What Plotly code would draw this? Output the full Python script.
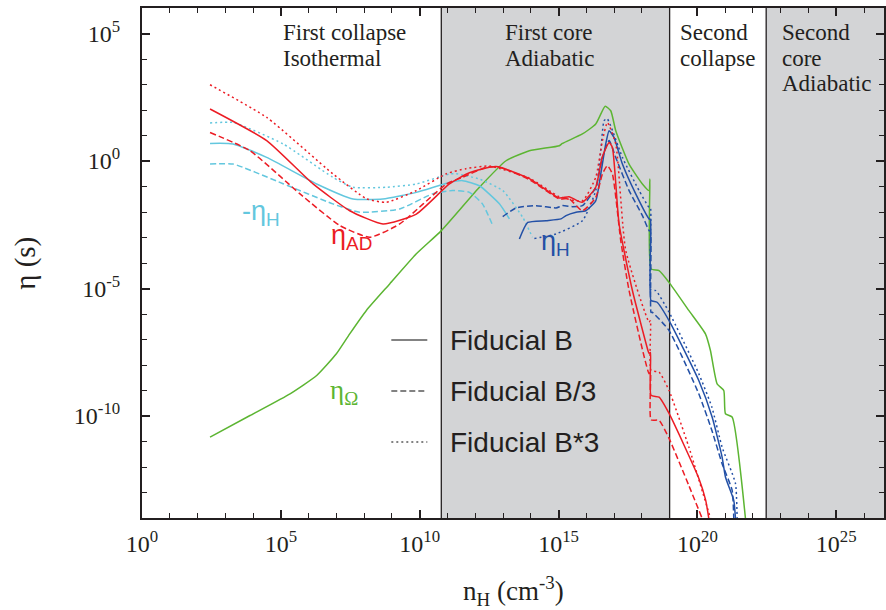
import numpy as np
import plotly.graph_objects as go

# ---- data: log10(n_H / cm^-3) and log10(eta / s) -------------------------
# Ambipolar diffusion
ad_b_logn = [2.45, 4.49, 6.16, 7.48, 8.68, 9.88, 11.07, 11.79, 12.75, 13.95, 15.03, 15.38, 15.85,
             16.34, 16.57, 16.82, 16.94, 17.18, 17.66, 18.22, 18.26, 18.31, 18.33, 18.62, 18.98,
             20.05, 20.30, 20.41]
ad_b_logeta = [2.04, 0.80, -0.90, -1.95, -2.47, -2.08, -0.90, -0.46, -0.22, -0.69, -1.45, -1.40, -1.62,
               -1.03, 0.14, 0.73, 0.53, -2.47, -5.08, -7.43, -7.55, -7.51, -9.19, -9.26, -9.90,
               -12.44, -13.31, -14.01]

ad_b3_logn = [2.45, 3.89, 5.69, 7.12, 8.20, 9.28, 10.96, 11.54, 12.39, 12.87, 13.95, 15.03, 15.38,
              15.86, 16.34, 16.58, 16.76, 16.94, 17.24, 17.54, 18.26, 18.31, 18.33, 18.62, 18.98,
              19.69, 20.17]
ad_b3_logeta = [1.12, 0.40, -1.29, -2.53, -2.99, -2.47, -0.90, -0.64, -0.25, -0.24, -0.73, -1.49, -1.48,
                -1.95, -1.43, -0.51, -0.18, -0.51, -3.12, -5.08, -8.34, -8.29, -10.15, -10.17, -10.88,
                -12.72, -14.01]

ad_bx3_logn = [2.45, 4.49, 6.87, 8.08, 8.80, 9.88, 10.96, 11.67, 12.51, 13.95, 15.03, 15.86, 16.34,
               16.58, 16.76, 17.06, 17.42, 18.26, 18.31, 18.33, 18.62, 18.98, 19.69, 20.47]
ad_bx3_logeta = [2.99, 1.71, -0.50, -1.48, -1.62, -1.16, -0.50, -0.30, -0.20, -0.67, -1.40, -1.56, -0.64,
                 0.80, 1.51, 0.67, -3.51, -6.32, -6.26, -8.21, -8.28, -9.00, -11.21, -14.01]

# Hall effect, negative branch (-eta_H)
hneg_b_logn = [2.45, 3.28, 4.49, 6.29, 7.60, 8.67, 9.88, 11.07, 11.55, 12.15, 12.87, 13.23]
hneg_b_logeta = [0.69, 0.67, 0.14, -0.90, -1.49, -1.49, -1.23, -0.84, -0.77, -0.97, -1.68, -2.27]

hneg_b3_logn = [2.45, 3.28, 5.08, 6.87, 7.84, 9.28, 10.46, 11.18, 11.79, 12.26, 12.63]
hneg_b3_logeta = [-0.12, -0.12, -0.89, -1.68, -2.01, -1.88, -1.29, -1.16, -1.23, -1.68, -2.53]

hneg_bx3_logn = [2.45, 3.28, 5.08, 6.87, 7.59, 8.80, 9.88, 11.07, 11.31, 12.15, 12.99, 13.71, 14.06]
hneg_bx3_logeta = [1.49, 1.51, 0.67, -0.64, -1.03, -1.03, -0.90, -0.51, -0.50, -0.71, -1.16, -2.21, -2.99]

# Hall effect, positive branch (eta_H)
hpos_b_logn = [13.59, 13.89, 14.55, 15.09, 15.27, 15.63, 15.98, 16.34, 16.52, 16.70, 16.82, 17.00,
               17.30, 17.78, 18.26, 18.31, 18.33, 18.55, 18.98, 20.05, 20.53, 20.89, 21.01, 21.31, 21.37]
hpos_b_logeta = [-3.06, -2.41, -2.34, -2.27, -2.14, -2.01, -1.95, -1.56, -0.51, 0.67, 1.19, 0.92,
                 -0.12, -1.29, -2.27, -2.30, -5.47, -5.54, -6.26, -8.61, -10.04, -11.61, -12.39, -13.31, -14.01]

hpos_b3_logn = [12.99, 13.47, 14.19, 14.91, 15.14, 15.50, 15.86, 16.34, 16.58, 16.82, 17.06, 17.54,
                18.02, 18.26, 18.31, 18.33, 18.37, 18.98, 20.05, 20.52, 20.89, 21.25, 21.31]
hpos_b3_logeta = [-2.18, -1.84, -1.75, -1.84, -1.75, -1.79, -1.75, -1.03, 0.14, 0.80, 0.14, -1.16,
                  -2.14, -2.73, -2.75, -5.94, -5.93, -6.65, -9.13, -10.56, -11.87, -12.91, -14.01]

hpos_bx3_logn = [14.13, 14.91, 15.86, 16.34, 16.52, 16.64, 16.75, 17.30, 17.90, 18.26, 18.31, 18.33,
                 18.50, 18.98, 20.05, 20.52, 20.89, 21.37, 21.43]
hpos_bx3_logeta = [-3.04, -2.86, -2.34, -1.16, 0.40, 1.58, 1.66, 0.14, -1.16, -1.82, -1.83, -5.08,
                   -5.08, -5.93, -8.34, -9.65, -11.22, -12.64, -14.01]

# Ohmic dissipation
ohm_logn = [2.45, 3.89, 5.33, 6.29, 7.00, 7.48, 8.08, 8.92, 9.88, 10.78, 12.15, 13.11, 13.95, 15.03,
            15.14, 15.86, 16.34, 16.68, 16.88, 17.06, 17.54, 18.02, 18.26, 18.29, 18.33, 18.62, 18.98,
            19.69, 20.29, 20.47, 20.71, 20.95, 21.01, 21.25, 21.73]
ohm_logeta = [-10.83, -9.98, -9.13, -8.41, -7.56, -6.78, -5.86, -4.82, -3.64, -2.73, -1.03, 0.01, 0.40,
              0.60, 0.69, 1.06, 1.45, 2.15, 1.97, 1.19, -0.12, -0.90, -1.16, -0.71, -4.23, -4.30, -4.76,
              -5.86, -6.78, -7.43, -8.74, -9.00, -9.91, -10.04, -14.01]

# phase boundaries in n_H (cm^-3)
phase_edges = [6e10, 1e19, 3e22]
phase_names = [["First collapse", "Isothermal"], ["First core", "Adiabatic"],
               ["Second", "collapse"], ["Second", "core", "Adiabatic"]]
phase_label_logn = [5.0, 12.99, 19.30, 22.99]

x_tick_exp = [0, 5, 10, 15, 20, 25]
y_tick_exp = [5, 0, -5, -10]
legend_names = ["Fiducial B", "Fiducial B/3", "Fiducial B*3"]

# ---- style -------------------------------------------------------------------
INK = "#231f20"
RED = "#ec1c24"
CYAN = "#63c7de"
BLUE = "#2350a6"
GREEN = "#5cb532"
BAND = "#d3d4d6"
SERIF = "Liberation Serif"
SANS = "Liberation Sans"
DASHES = ["solid", "6px,3px", "2px,3px"]

fig = go.Figure()


def add_curve(logn, logeta, color, dash):
    fig.add_trace(go.Scatter(
        x=np.power(10.0, logn), y=np.power(10.0, logeta), mode="lines",
        line=dict(color=color, width=1.5, dash=dash, shape="spline", smoothing=0.5),
        showlegend=False, hoverinfo="skip"))


add_curve(ohm_logn, ohm_logeta, GREEN, DASHES[0])
for (ln, le), d in zip([(hneg_b_logn, hneg_b_logeta), (hneg_b3_logn, hneg_b3_logeta),
                        (hneg_bx3_logn, hneg_bx3_logeta)], DASHES):
    add_curve(ln, le, CYAN, d)
for (ln, le), d in zip([(hpos_b_logn, hpos_b_logeta), (hpos_b3_logn, hpos_b3_logeta),
                        (hpos_bx3_logn, hpos_bx3_logeta)], DASHES):
    add_curve(ln, le, BLUE, d)
for (ln, le), d in zip([(ad_b_logn, ad_b_logeta), (ad_b3_logn, ad_b3_logeta),
                        (ad_bx3_logn, ad_bx3_logeta)], DASHES):
    add_curve(ln, le, RED, d)

shapes = []
# shaded adiabatic phases
for x0, x1 in [(phase_edges[0], phase_edges[1]), (phase_edges[2], 1e28)]:
    shapes.append(dict(type="rect", xref="x", yref="paper", x0=x0, x1=x1, y0=0, y1=1,
                       fillcolor=BAND, line=dict(width=0), layer="below"))
for xe in phase_edges:
    shapes.append(dict(type="line", xref="x", yref="paper", x0=xe, x1=xe, y0=0, y1=1,
                       line=dict(color=INK, width=1.3), layer="below"))

annotations = []
line_y = [0.951, 0.901, 0.851]
for names, lx in zip(phase_names, phase_label_logn):
    for k, txt in enumerate(names):
        annotations.append(dict(text=txt, xref="x", yref="paper", x=lx, y=line_y[k],
                                xanchor="left", yanchor="middle", showarrow=False,
                                font=dict(family=SERIF, size=23, color=INK)))

# line-style key
key_y = [0.349, 0.249, 0.149]
for name, d, ky in zip(legend_names, DASHES, key_y):
    shapes.append(dict(type="line", xref="paper", yref="paper", x0=0.336, x1=0.3845, y0=ky, y1=ky,
                       line=dict(color="#5a5a5a", width=1.5, dash=d)))
    annotations.append(dict(text=name, xref="paper", yref="paper", x=0.4118, y=ky,
                            xanchor="left", yanchor="middle", showarrow=False,
                            font=dict(family=SANS, size=28, color=INK)))

# curve labels
curve_labels = [("-η<sub>H</sub>", 0.160, 0.598, CYAN, SANS),
                ("η<sub>AD</sub>", 0.283, 0.551, RED, SANS),
                ("η<sub>H</sub>", 0.557, 0.539, BLUE, SANS),
                ("η<sub>Ω</sub>", 0.272, 0.247, GREEN, SERIF)]
for txt, px, py, col, fam in curve_labels:
    annotations.append(dict(text=txt, xref="paper", yref="paper", x=px, y=py,
                            xanchor="center", yanchor="middle", showarrow=False,
                            font=dict(family=fam, size=27, color=col)))

# axis titles
annotations.append(dict(text="n<sub>H</sub> (cm<sup>-3</sup>)", xref="paper", yref="paper",
                        x=0.5, y=-0.143, xanchor="center", yanchor="middle", showarrow=False,
                        font=dict(family=SERIF, size=27, color=INK)))
annotations.append(dict(text="η (s)", xref="paper", yref="paper", x=-0.158, y=0.5,
                        xanchor="center", yanchor="middle", showarrow=False, textangle=-90,
                        font=dict(family=SERIF, size=29, color=INK)))

axis_common = dict(type="log", showgrid=False, zeroline=False, showline=True, linecolor=INK,
                   linewidth=2, mirror="ticks", ticks="inside", ticklen=8, tickwidth=1.5,
                   tickcolor=INK, tickfont=dict(family=SERIF, size=24, color=INK),
                   tickmode="array")

fig.update_xaxes(**axis_common, range=[0, 26.72], ticklabelstandoff=3,
                 tickvals=[10.0 ** e for e in x_tick_exp],
                 ticktext=[f"10<sup>{e}</sup>" for e in x_tick_exp],
                 minor=dict(tickmode="array", tickvals=[10.0 ** e for e in range(0, 27)],
                            ticks="inside", ticklen=5, tickwidth=1.2, tickcolor=INK))
fig.update_yaxes(**axis_common, range=[-14, 6], ticklabelstandoff=15,
                 tickvals=[10.0 ** e for e in y_tick_exp],
                 ticktext=[f"10<sup>{e}</sup>" for e in y_tick_exp],
                 minor=dict(tickmode="array", tickvals=[10.0 ** e for e in range(-14, 7)],
                            ticks="inside", ticklen=5, tickwidth=1.2, tickcolor=INK))

fig.update_layout(width=886, height=610, margin=dict(l=142, r=0, t=8, b=92),
                  paper_bgcolor="white", plot_bgcolor="white", showlegend=False,
                  shapes=shapes, annotations=annotations)

fig.write_html("out.html")
